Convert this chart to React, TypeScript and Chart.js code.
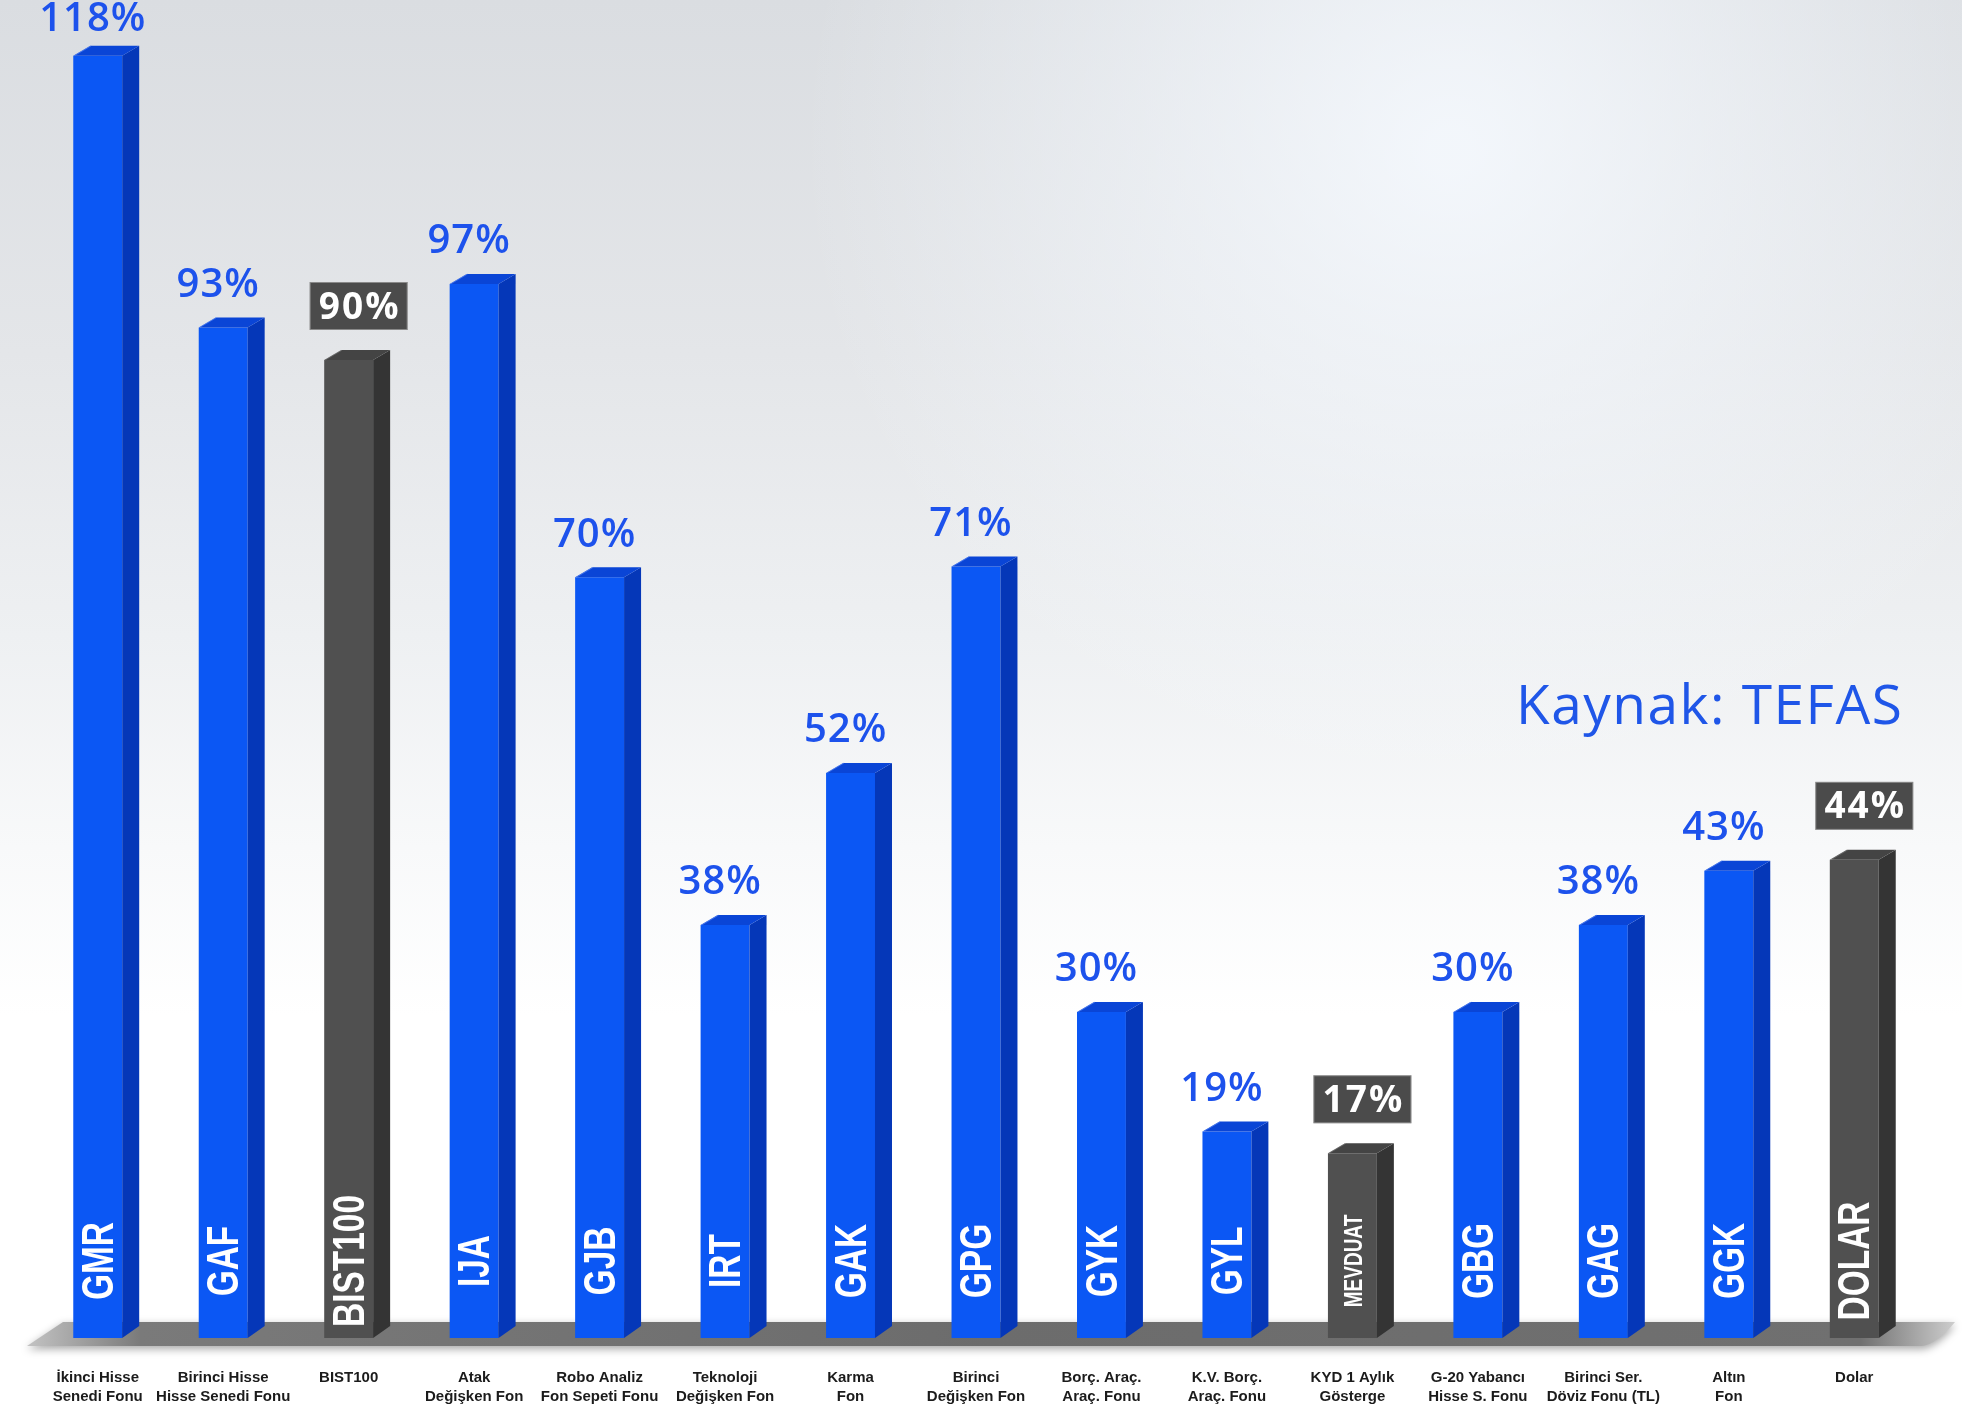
import React, { useEffect, useRef } from "react";
import { Chart, registerables } from "chart.js";

Chart.register(...registerables);

// ---- data ----
const fundCodes = [
  "GMR", "GAF", "BIST100", "IJA", "GJB", "IRT", "GAK", "GPG",
  "GYK", "GYL", "MEVDUAT", "GBG", "GAG", "GGK", "DOLAR",
];
const fundNames: (string | string[])[] = [
  ["İkinci Hisse", "Senedi Fonu"],
  ["Birinci Hisse", "Hisse Senedi Fonu"],
  ["BIST100"],
  ["Atak", "Değişken Fon"],
  ["Robo Analiz", "Fon Sepeti Fonu"],
  ["Teknoloji", "Değişken Fon"],
  ["Karma", "Fon"],
  ["Birinci", "Değişken Fon"],
  ["Borç. Araç.", "Araç. Fonu"],
  ["K.V. Borç.", "Araç. Fonu"],
  ["KYD 1 Aylık", "Gösterge"],
  ["G-20 Yabancı", "Hisse S. Fonu"],
  ["Birinci Ser.", "Döviz Fonu (TL)"],
  ["Altın", "Fon"],
  ["Dolar"],
];
const returnsPct = [118, 93, 90, 97, 70, 38, 52, 71, 30, 19, 17, 30, 38, 43, 44];
const benchmarkCodes = ["BIST100", "MEVDUAT", "DOLAR"];
const sourceText = "Kaynak: TEFAS";

// ---- style ----
const BLUE_FRONT = "#0b57f4";
const BLUE_SIDE = "#0537b8";
const BLUE_TOP = "#0a45d6";
const GRAY_FRONT = "#505050";
const GRAY_SIDE = "#343434";
const GRAY_TOP = "#444444";
const LABEL_BLUE = "#1d52ec";
const DEPTH_X = 17;
const DEPTH_Y = 10;
const smallInner = new Set(["MEVDUAT"]);

const isBench = (i: number) => benchmarkCodes.includes(fundCodes[i]);

const bar3dPlugin = {
  id: "bar3d",
  beforeDraw(chart: any) {
    const { ctx, width, height } = chart;
    ctx.save();
    const g = ctx.createLinearGradient(0, 0, 0, height);
    g.addColorStop(0, "#dadde1");
    g.addColorStop(0.25, "#e4e6e9");
    g.addColorStop(0.45, "#eef0f2");
    g.addColorStop(0.6, "#f8f9fa");
    g.addColorStop(0.72, "#ffffff");
    g.addColorStop(1, "#ffffff");
    ctx.fillStyle = g;
    ctx.fillRect(0, 0, width, height);
    const r = ctx.createRadialGradient(1450, 150, 20, 1450, 150, 650);
    r.addColorStop(0, "rgba(246,250,255,0.85)");
    r.addColorStop(1, "rgba(246,250,255,0)");
    ctx.fillStyle = r;
    ctx.fillRect(0, 0, width, height);
    ctx.restore();
  },
  beforeDatasetsDraw(chart: any) {
    const { ctx, chartArea } = chart;
    const base = chart.scales.y.getPixelForValue(0);
    const topY = base - 16;
    const botY = base + 8;
    const l = chartArea.left;
    const r = chartArea.right;
    ctx.save();
    ctx.shadowColor = "rgba(0,0,0,0.35)";
    ctx.shadowBlur = 8;
    ctx.shadowOffsetY = 3;
    const g = ctx.createLinearGradient(l - 10, 0, r + 40, 0);
    g.addColorStop(0, "#c4c4c4");
    g.addColorStop(0.06, "#7a7a7a");
    g.addColorStop(0.5, "#6c6c6c");
    g.addColorStop(0.95, "#707070");
    g.addColorStop(1, "#cfcfcf");
    ctx.fillStyle = g;
    ctx.beginPath();
    ctx.moveTo(l - 8, botY);
    ctx.lineTo(l + 28, topY);
    ctx.lineTo(r + 38, topY);
    ctx.quadraticCurveTo(r + 20, botY - 2, r + 5, botY);
    ctx.closePath();
    ctx.fill();
    ctx.restore();
  },
  afterDatasetsDraw(chart: any) {
    const { ctx } = chart;
    const meta = chart.getDatasetMeta(0);
    meta.data.forEach((el: any, i: number) => {
      const bench = isBench(i);
      const half = el.width / 2;
      const L = el.x - half;
      const R = el.x + half;
      const top = el.y;
      const base = el.base;
      ctx.save();
      ctx.fillStyle = bench ? GRAY_SIDE : BLUE_SIDE;
      ctx.beginPath();
      ctx.moveTo(R, top);
      ctx.lineTo(R + DEPTH_X, top - DEPTH_Y);
      ctx.lineTo(R + DEPTH_X, base - DEPTH_Y - 2);
      ctx.lineTo(R, base);
      ctx.closePath();
      ctx.fill();
      ctx.fillStyle = bench ? GRAY_TOP : BLUE_TOP;
      ctx.beginPath();
      ctx.moveTo(L, top);
      ctx.lineTo(L + DEPTH_X, top - DEPTH_Y);
      ctx.lineTo(R + DEPTH_X, top - DEPTH_Y);
      ctx.lineTo(R, top);
      ctx.closePath();
      ctx.fill();
      ctx.strokeStyle = bench ? "rgba(255,255,255,0.18)" : "rgba(120,160,255,0.5)";
      ctx.lineWidth = 1;
      ctx.beginPath();
      ctx.moveTo(L + 1, top);
      ctx.lineTo(L + DEPTH_X + 1, top - DEPTH_Y);
      ctx.stroke();

      const code = fundCodes[i];
      const small = smallInner.has(code);
      ctx.translate(el.x + 1, base - 77);
      ctx.rotate(-Math.PI / 2);
      ctx.scale(0.76, 1);
      ctx.font = `bold ${small ? 25 : 44}px "Liberation Sans", Arial, sans-serif`;
      ctx.fillStyle = "#ffffff";
      ctx.textAlign = "center";
      ctx.textBaseline = "middle";
      ctx.fillText(code, 0, 2);
      ctx.restore();

      const txt = `${returnsPct[i]}%`;
      ctx.save();
      if (bench) {
        const bw = 98;
        const bh = 48;
        const cx = el.x + 10;
        const by = top - 30 - bh;
        ctx.fillStyle = "#4b4b4b";
        ctx.fillRect(cx - bw / 2, by, bw, bh);
        ctx.strokeStyle = "rgba(255,255,255,0.35)";
        ctx.lineWidth = 1;
        ctx.strokeRect(cx - bw / 2 + 0.5, by + 0.5, bw - 1, bh - 1);
        ctx.fillStyle = "#ffffff";
        ctx.font = `bold 37px "Open Sans", Lato, sans-serif`;
        (ctx as any).letterSpacing = "2px";
        ctx.textAlign = "center";
        ctx.textBaseline = "middle";
        ctx.fillText(txt, cx + 1, by + bh / 2 + 2);
      } else {
        ctx.fillStyle = LABEL_BLUE;
        ctx.font = `600 40px "Open Sans", Lato, sans-serif`;
        (ctx as any).letterSpacing = "1px";
        ctx.textAlign = "center";
        ctx.textBaseline = "middle";
        ctx.fillText(txt, el.x - 5, Math.max(top - 42, 20));
      }
      ctx.restore();
    });
  },
};

export default function App() {
  const canvasRef = useRef<HTMLCanvasElement | null>(null);

  useEffect(() => {
    document.body.style.margin = "0";
    const canvas = canvasRef.current;
    if (!canvas) return;
    const chart = new Chart(canvas, {
      type: "bar",
      data: {
        labels: fundNames,
        datasets: [
          {
            data: returnsPct,
            backgroundColor: returnsPct.map((_, i) => (isBench(i) ? GRAY_FRONT : BLUE_FRONT)),
            borderWidth: 0,
            categoryPercentage: 1,
            barPercentage: 0.39,
          },
        ],
      },
      options: {
        animation: false,
        responsive: false,
        devicePixelRatio: 1,
        layout: { padding: { left: 35, right: 45, top: 34, bottom: 0 } },
        plugins: {
          legend: { display: false },
          tooltip: { enabled: false },
        },
        scales: {
          x: {
            grid: { display: false, drawTicks: false },
            border: { display: false },
            ticks: {
              color: "#1b1b1b",
              font: { family: '"Liberation Sans", Arial, sans-serif', size: 15, weight: "bold", lineHeight: 1.3 },
              padding: 30,
              maxRotation: 0,
              autoSkip: false,
            },
            afterFit: (scale: any) => {
              scale.height = 74;
            },
          },
          y: { display: false, min: 0, max: 120 },
        },
      },
      plugins: [bar3dPlugin],
    } as any);
    return () => chart.destroy();
  }, []);

  return (
    <div style={{ position: "relative", width: 1962, height: 1412, overflow: "hidden" }}>
      <canvas ref={canvasRef} width={1962} height={1412} style={{ display: "block" }} />
      <div
        style={{
          position: "absolute",
          left: 1516,
          top: 668,
          fontFamily: '"Open Sans", Lato, sans-serif',
          fontSize: 55,
          letterSpacing: 1.5,
          lineHeight: "70px",
          color: "#1f56e8",
          whiteSpace: "nowrap",
        }}
      >
        {sourceText}
      </div>
    </div>
  );
}
